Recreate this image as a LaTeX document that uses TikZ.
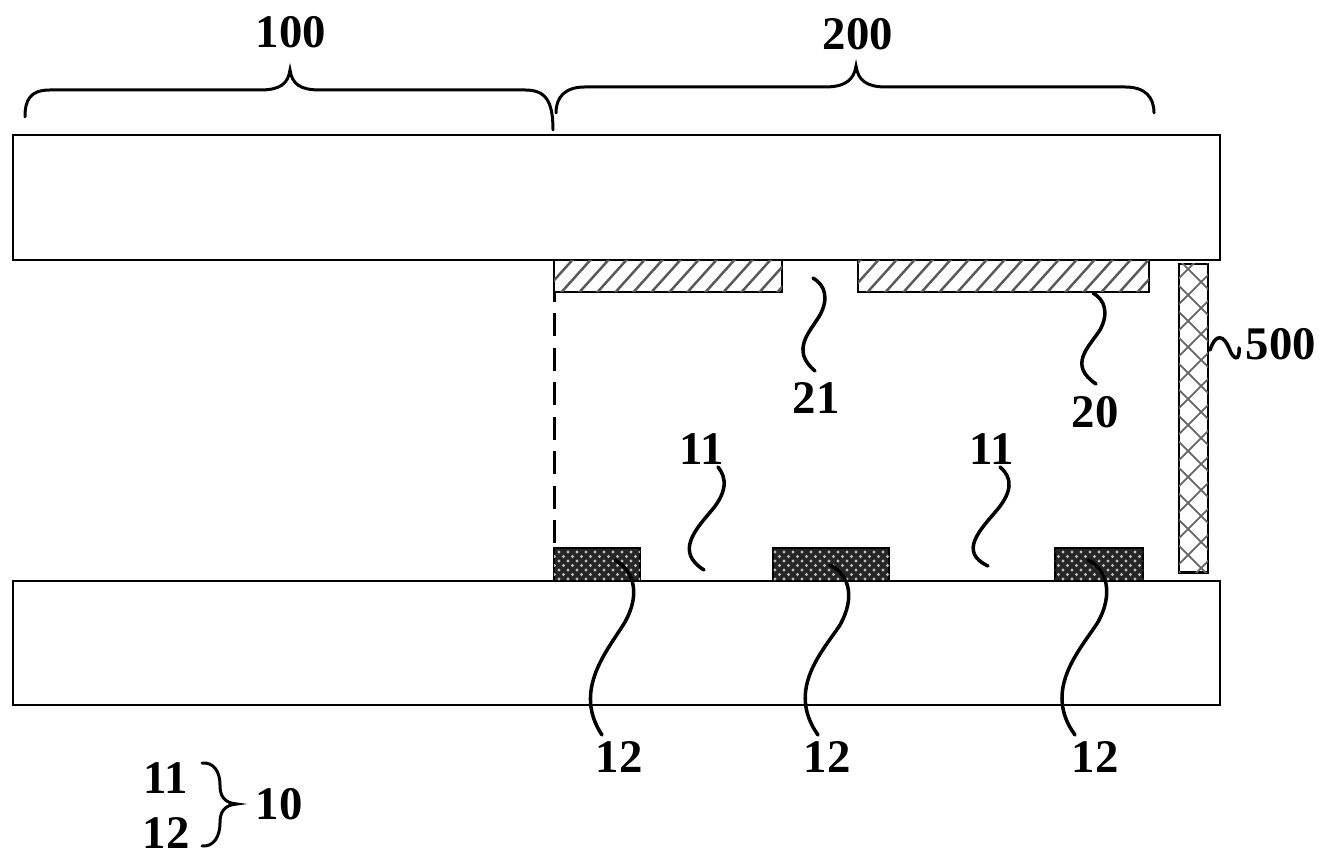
\documentclass[tikz,border=0pt]{standalone}
\usepackage{fontspec}
\setmainfont{Liberation Serif}
\usetikzlibrary{positioning}
\tikzset{every picture/.style={line width=0.65pt}}
\tikzset{plate/.style={draw,rectangle,inner sep=0pt,outer sep=0pt,anchor=north west}}
\tikzset{lab/.style={font=\fontsize{13.3pt}{15pt}\selectfont\bfseries,inner sep=0pt}}
\tikzset{leader/.style={line width=1pt,line cap=round}}
\tikzset{brc/.style={line width=0.85pt,line cap=round}}
\begin{document}
\begin{tikzpicture}[x=0.01cm,y=-0.01cm]
\useasboundingbox (0,0) rectangle (1328,862);
% plates
\node[plate,minimum width=12.06cm,minimum height=1.25cm] (top) at (13,135) {};
\node[plate,minimum width=12.06cm,minimum height=1.24cm] (bot) at (13,581) {};
% hatched electrodes
\node[plate,minimum width=2.28cm,minimum height=0.32cm] (elA) at (554,260) {};
\node[plate,minimum width=2.91cm,minimum height=0.32cm] (elB) at (858,260) {};
\begin{scope}
\clip (elA.south west) rectangle (elA.north east) (elB.south west) rectangle (elB.north east);
\foreach \x in {540,558,...,1170}
  \draw[black!65,line width=0.7pt] (\x,296) -- (\x+36,256);
\end{scope}
% spacer
\node[plate,line width=0.8pt,minimum width=0.29cm,minimum height=3.08cm] (spacer) at (1179,264) {};
\begin{scope}
\clip (spacer.south west) rectangle (spacer.north east);
\foreach \y in {230,256,...,620} {
  \draw[black!60,line width=0.5pt] (1175,\y) -- (1215,\y+40);
  \draw[black!60,line width=0.5pt] (1175,\y) -- (1215,\y-40);
}
\end{scope}
% dark pads
\node[plate,fill=black!85,minimum width=0.86cm,minimum height=0.33cm] (padA) at (554,548) {};
\node[plate,fill=black!85,minimum width=1.16cm,minimum height=0.33cm] (padB) at (773,548) {};
\node[plate,fill=black!85,minimum width=0.88cm,minimum height=0.33cm] (padC) at (1055,548) {};
\begin{scope}
\clip (padA.south west) rectangle (padA.north east) (padB.south west) rectangle (padB.north east) (padC.south west) rectangle (padC.north east);
\foreach \r in {0,...,6} {
  \pgfmathsetmacro{\rowy}{552+\r*4.5}
  \pgfmathsetmacro{\shiftx}{mod(\r,2)*4.5}
  \foreach \x in {0,9,...,603}
    \fill[black!25] (550+\x+\shiftx,\rowy) circle (1.6);
}
\end{scope}
\draw[line width=0.85pt,dash pattern=on 6.5pt off 3.3pt,dash phase=3.7pt] (elA.south west) -- (padA.north west);
% labels
\node[lab] (l100) at (291,32) {100};
\node[lab] (l200) at (858,34) {200};
\node[lab] (l21) at (816,398) {21};
\node[lab] (l20) at (1095,412) {20};
\node[lab] (l500) at (1281,344) {500};
\node[lab] (l11a) at (702,449) {11};
\node[lab] (l11b) at (992,449) {11};
\node[lab] (l12a) at (619,757) {12};
\node[lab] (l12b) at (827,757) {12};
\node[lab] (l12c) at (1095,757) {12};
\node[lab] (k11) at (166,778) {11};
\node[lab] (k12) at (166,833) {12};
\node[lab] (k10) at (279,804) {10};
% braces
\draw[brc] (25,117) .. controls (25,100) and (30,90) .. (50,90) -- (260,90) .. controls (280,90) and (288,84) .. (290,70) .. controls (292,84) and (300,90) .. (320,90) -- (525,90) .. controls (545,90) and (553,100) .. (553,130);
\draw[brc] (556,113) .. controls (556,97) and (565,87) .. (585,87) -- (825,87) .. controls (845,87) and (854,80) .. (856,66) .. controls (858,80) and (866,87) .. (886,87) -- (1125,87) .. controls (1145,87) and (1154,97) .. (1154,113);
\draw[brc] (202,763) .. controls (214,762) and (220,772) .. (220,785) .. controls (220,796) and (224,803) .. (237,804) .. controls (224,805) and (220,812) .. (220,823) .. controls (220,836) and (214,847) .. (202,846);
% leaders
\draw[leader] (813,278) .. controls (825,285) and (829,298) .. (820,315) .. controls (810,332) and (790,350) .. (815,371);
\draw[leader] (1093,293) .. controls (1105,300) and (1109,313) .. (1100,330) .. controls (1088,348) and (1068,365) .. (1096,384);
\draw[leader] (1210,350) .. controls (1216,332) and (1224,336) .. (1229,348) .. controls (1233,360) and (1240,362) .. (1239,348);
\draw[leader] (718,467) .. controls (727,478) and (727,492) .. (712,510) .. controls (695,530) and (675,552) .. (704,570);
\draw[leader] (1000,467) .. controls (1013,478) and (1012,492) .. (997,510) .. controls (980,530) and (958,552) .. (988,566);
\draw[leader] (615,560) .. controls (635,572) and (640,595) .. (625,622) .. controls (608,650) and (572,690) .. (602,735);
\draw[leader] (830,565) .. controls (850,575) and (855,598) .. (840,625) .. controls (822,652) and (786,690) .. (818,735);
\draw[leader] (1088,560) .. controls (1108,570) and (1113,595) .. (1098,622) .. controls (1080,650) and (1042,690) .. (1075,735);
\end{tikzpicture}
\end{document}
